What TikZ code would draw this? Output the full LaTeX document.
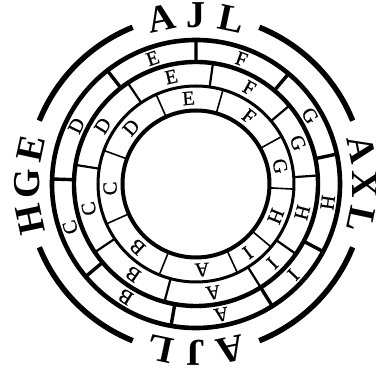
\documentclass[tikz,border=0pt]{standalone}
\usepackage{fontspec}
\setmainfont{Liberation Serif}
\newfontfamily\ringfont[FakeBold=0.8]{Liberation Serif}
\usetikzlibrary{positioning}

\begin{document}
\begin{tikzpicture}[x=1pt, y=1pt,
    rim/.style={line width=5.5pt},
    circ/.style={line width=#1, draw=black},
    divo/.style={line width=3.4pt},
    divm/.style={line width=2.2pt},
    divi/.style={line width=1.6pt},
    big/.style={font=\fontsize{38}{38}\selectfont\bfseries, inner sep=0pt},
    seg/.style={font=\fontsize{20}{20}\ringfont, inner sep=0pt}
  ]
    \useasboundingbox (-196,-190) rectangle (180,184);

    % Outer broken rim
    \draw[rim] (22:169) arc[start angle=22, end angle=68, radius=169];
    \draw[rim] (112:169) arc[start angle=112, end angle=158, radius=169];
    \draw[rim] (202:169) arc[start angle=202, end angle=248, radius=169];
    \draw[rim] (292:169) arc[start angle=292, end angle=338, radius=169];

    % Rim labels
    \node[big, rotate=12]   (tA) at (102:169) {A};
    \node[big, rotate=0]    (tJ) at (90:169)  {J};
    \node[big, rotate=-12]  (tL) at (78:169)  {L};
    \node[big, rotate=-78]  (rA) at (12:169)  {A};
    \node[big, rotate=-90]  (rX) at (0:169)   {X};
    \node[big, rotate=-102] (rL) at (-12:169) {L};
    \node[big, rotate=192]  (bA) at (282:169) {A};
    \node[big, rotate=180]  (bJ) at (270:169) {J};
    \node[big, rotate=168]  (bL) at (258:169) {L};
    \node[big, rotate=102]  (lH) at (192:169) {H};
    \node[big, rotate=90]   (lG) at (180:169) {G};
    \node[big, rotate=78]   (lE) at (168:169) {E};

    % Circles
    \draw[circ=4.6pt] (0,0) circle[radius=144];
    \draw[circ=4.4pt] (0,0) circle[radius=122];
    \draw[circ=3pt] (0,0) circle[radius=98];
    \draw[circ=4pt] (0,0) circle[radius=73.5];

    % Dividers
    \draw[divo] (128:122) -- (128:144) (90:122) -- (90:144) (50:122) -- (50:144)
                (12:122) -- (12:144) (-28:122) -- (-28:144) (-58:122) -- (-58:144)
                (-100:122) -- (-100:144) (-140:122) -- (-140:144) (-182:122) -- (-182:144);
    \draw[divm] (124:98) -- (124:122) (82:98) -- (82:122) (40:98) -- (40:122)
                (4:98) -- (4:122) (-35:98) -- (-35:122) (-58:98) -- (-58:122)
                (-105:98) -- (-105:122) (-146:98) -- (-146:122) (-189:98) -- (-189:122);
    \draw[divi] (114:73.5) -- (114:98) (74:73.5) -- (74:98) (29:73.5) -- (29:98)
                (-3:73.5) -- (-3:98) (-40:73.5) -- (-40:98) (-65:73.5) -- (-65:98)
                (-112:73.5) -- (-112:98) (-156:73.5) -- (-156:98) (-200:73.5) -- (-200:98);

    % Outer ring
    \node[seg, rotate=19]   (oE) at (109:133)  {E};
    \node[seg, rotate=-20]  (oF) at (70:133)   {F};
    \node[seg, rotate=-59]  (oG) at (31:133)   {G};
    \node[seg, rotate=-98]  (oH) at (-8:133)   {H};
    \node[seg, rotate=-133] (oI) at (-43:133)  {I};
    \node[seg, rotate=-169] (oA) at (-79:133)  {A};
    \node[seg, rotate=-212] (oB) at (-122:133) {B};
    \node[seg, rotate=-251] (oC) at (-161:133) {C};
    \node[seg, rotate=64]   (oD) at (154:133)  {D};

    % Middle ring
    \node[seg, rotate=13]   (mE) at (103:110)    {E};
    \node[seg, rotate=-29]  (mF) at (61:110)     {F};
    \node[seg, rotate=-68]  (mG) at (22:110)     {G};
    \node[seg, rotate=-105] (mH) at (-15:110)    {H};
    \node[seg, rotate=-136] (mI) at (-46:110)    {I};
    \node[seg, rotate=-171] (mA) at (-81:110)    {A};
    \node[seg, rotate=-215] (mB) at (-125:110)   {B};
    \node[seg, rotate=-257] (mC) at (-167:110)   {C};
    \node[seg, rotate=58]   (mD) at (148:110)    {D};

    % Inner ring
    \node[seg, rotate=5]    (iE) at (95:86)   {E};
    \node[seg, rotate=-38]  (iF) at (52:86)   {F};
    \node[seg, rotate=-78]  (iG) at (12:86)   {G};
    \node[seg, rotate=-112] (iH) at (-22:86)  {H};
    \node[seg, rotate=-143] (iI) at (-53:86)  {I};
    \node[seg, rotate=-176] (iA) at (-86:86)  {A};
    \node[seg, rotate=-223] (iB) at (-133:86) {B};
    \node[seg, rotate=-267] (iC) at (-177:86) {C};
    \node[seg, rotate=49]   (iD) at (139:86)  {D};
  \end{tikzpicture}
\end{document}
